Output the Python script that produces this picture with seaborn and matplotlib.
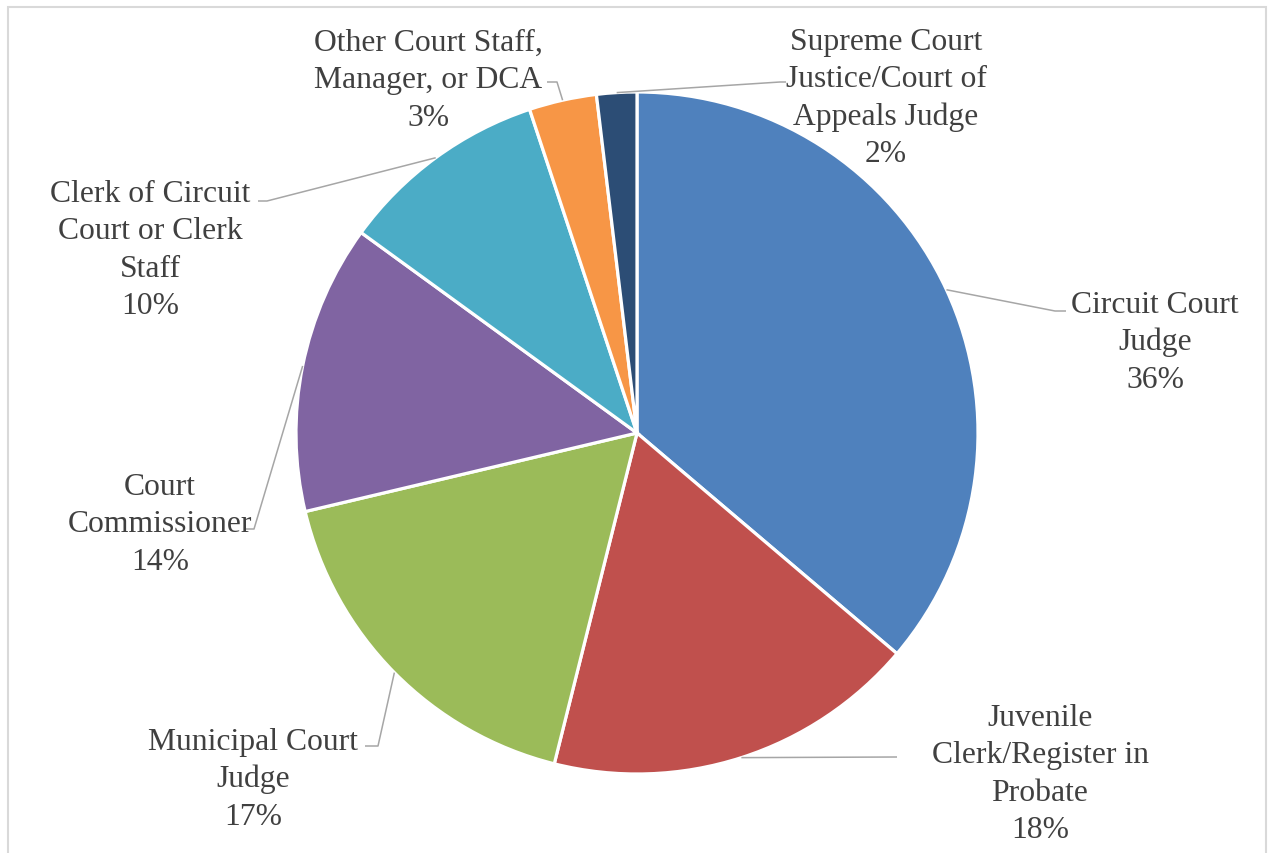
import numpy as np
import matplotlib
matplotlib.use("Agg")
import matplotlib.pyplot as plt
import seaborn as sns
from matplotlib.patches import Rectangle

# ---- data ----
categories = [
    "Circuit Court\nJudge",
    "Juvenile\nClerk/Register in\nProbate",
    "Municipal Court\nJudge",
    "Court\nCommissioner",
    "Clerk of Circuit\nCourt or Clerk\nStaff",
    "Other Court Staff,\nManager, or DCA",
    "Supreme Court\nJustice/Court of\nAppeals Judge",
]
shares = [36.2, 17.7, 17.4, 13.7, 9.9, 3.2, 1.9]
colors = ["#4F81BD", "#C0504D", "#9BBB59", "#8064A2", "#4BACC6", "#F79646", "#2C4D75"]

# ---- layout (pixels) ----
W, H, DPI = 1268, 854, 100
CX, CY, R = 637, 434, 341
LINE_STEP = 37.3
# label x centre and first-line vertical centre
text_pos = [(1155, 302), (1040, 715), (253, 739), (160, 484), (150, 191), (428, 40), (886, 39)]
leader_pts = [
    [(1055, 312), (1066, 312)],
    [(897, 758)],
    [(378, 747), (365, 747)],
    [(254, 530), (244, 530)],
    [(267, 202), (258, 202)],
    [(557, 83), (547, 83)],
    [(780, 83), (786, 83)],
]

sns.set_theme(style="white")
plt.rcParams["font.family"] = ["Liberation Serif", "DejaVu Serif"]

fig = plt.figure(figsize=(W / DPI, H / DPI), dpi=DPI)
fig.patch.set_facecolor("white")
ax = fig.add_axes([0, 0, 1, 1])


def px(p):
    return ((p[0] - CX) / R, (CY - p[1]) / R)


wedges, _ = ax.pie(
    shares,
    colors=colors,
    startangle=90,
    counterclock=False,
    radius=1.0,
    center=(0, 0),
    wedgeprops=dict(edgecolor="white", linewidth=2.3),
    frame=True,
)
ax.set_xlim((0 - CX) / R, (W - CX) / R)
ax.set_ylim((CY - H) / R, CY / R)
ax.axis("off")

for w, cat, v, tp, lp in zip(wedges, categories, shares, text_pos, leader_pts):
    ang = np.deg2rad((w.theta1 + w.theta2) / 2)
    start = (np.cos(ang), np.sin(ang))
    pts = [start] + [px(p) for p in lp]
    xs, ys = zip(*pts)
    ax.plot(xs, ys, color="#A6A6A6", lw=1.1, solid_capstyle="butt", zorder=3)
    lines = cat.split("\n") + [f"{round(v)}%"]
    for i, line in enumerate(lines):
        tx, ty = px((tp[0], tp[1] + i * LINE_STEP + 11))
        ax.text(tx, ty, line, ha="center", va="baseline",
                fontsize=22.8, color="#404040")

fig.patches.append(Rectangle((8 / W, -0.02), (1266 - 8) / W, 1.02 - 8 / H,
                             transform=fig.transFigure, fill=False,
                             edgecolor="#D9D9D9", linewidth=1.5))

fig.savefig("out.png", dpi=DPI)
